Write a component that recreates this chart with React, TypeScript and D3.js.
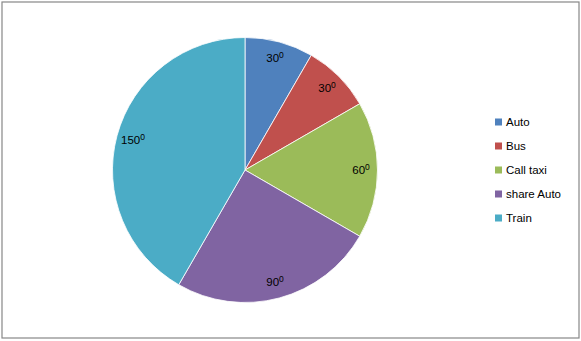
import React from "react";
import * as d3 from "d3";

const categories = ["Auto", "Bus", "Call taxi", "share Auto", "Train"];
const values = [30, 30, 60, 90, 150];
const labels = ["30", "30", "60", "90", "150"];
const colors = ["#4F81BD", "#C0504D", "#9BBB59", "#8064A2", "#4BACC6"];

export default function App() {
  const W = 581, H = 341;
  const cx = 245, cy = 170, r = 132.5;
  const pie = d3.pie<number>().sort(null).value((d) => d);
  const arcs = pie(values);
  const arc = d3.arc<d3.PieArcDatum<number>>().innerRadius(0).outerRadius(r);
  const labelArc = d3.arc<d3.PieArcDatum<number>>().innerRadius(116).outerRadius(116);
  const legendY = d3.scaleLinear().domain([0, 1]).range([122, 146]);
  const font = "'Liberation Sans', Arial, sans-serif";
  return (
    <svg width={W} height={H} style={{ position: "absolute", left: 0, top: 0 }}>
      <rect x={0} y={0} width={W} height={H} fill="#fff" />
      <rect x={2} y={2} width={577} height={336} fill="none" stroke="#878787" strokeWidth={1.2} />
      <g transform={`translate(${cx},${cy})`}>
        {arcs.map((a, i) => (
          <path key={i} d={arc(a) || ""} fill={colors[i]} stroke="#fff" strokeWidth={0.8} />
        ))}
        {arcs.map((a, i) => {
          const [x, y] = labelArc.centroid(a);
          return (
            <text key={i} x={x} y={y + 4} textAnchor="middle" fontFamily={font} fontSize={11.5} fill="#000">
              {labels[i]}
              <tspan fontSize={8.5} dy={-4}>0</tspan>
            </text>
          );
        })}
      </g>
      {categories.map((c, i) => (
        <g key={c}>
          <rect x={495} y={legendY(i) - 3.5} width={7} height={7} fill={colors[i]} />
          <text x={506} y={legendY(i) + 4} fontFamily={font} fontSize={11.5} fill="#000">{c}</text>
        </g>
      ))}
    </svg>
  );
}
